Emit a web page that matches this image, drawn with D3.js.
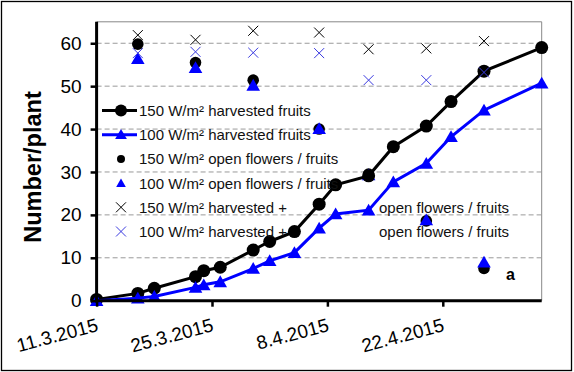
<!DOCTYPE html>
<html>
<head>
<meta charset="utf-8">
<script src="https://cdn.jsdelivr.net/npm/d3@7"></script>
<style>
  body { margin: 0; background: #fff; }
  svg { display: block; font-family: "Liberation Sans", Arial, sans-serif; }
</style>
</head>
<body>
<div id="chart-area"></div>
<script>
// harvested fruits (lines), measured dates
var lineDates = ["2015-03-11","2015-03-16","2015-03-18","2015-03-23","2015-03-24","2015-03-26",
  "2015-03-30","2015-04-01","2015-04-04","2015-04-07","2015-04-09","2015-04-13","2015-04-16",
  "2015-04-20","2015-04-23","2015-04-27","2015-05-04"];
var harvested150 = [0.3, 1.7, 2.9, 5.6, 7.0, 7.8, 11.8, 13.8, 16.1, 22.5, 27.0, 29.1, 35.9, 40.7, 46.4, 53.5, 59.0];
var harvested100 = [0.0, 0.6, 1.0, 3.1, 3.7, 4.4, 7.5, 9.3, 11.2, 16.9, 20.2, 21.1, 27.7, 32.0, 38.2, 44.4, 50.7];

// open flowers / fruits counts (weekly)
var openDates = ["2015-03-16","2015-03-23","2015-03-30","2015-04-07","2015-04-13","2015-04-20","2015-04-27"];
var open150 = [59.8, 55.5, 51.4, 40.0, 29.5, 18.6, 7.5];
var open100 = [56.4, 54.3, 50.2, 40.1, 29.3, 18.8, 9.0];
var total150 = [61.9, 60.8, 62.9, 62.5, 58.6, 58.8, 60.5];
var total100 = [57.7, 58.0, 57.8, 57.7, 51.4, 51.4, 53.2];

var yTicks = [0, 10, 20, 30, 40, 50, 60];
var xTickDates = ["2015-03-11","2015-03-25","2015-04-08","2015-04-22"];
var xDomain = ["2015-03-11","2015-05-04"];

var legendRows = [
  {label: "150 W/m² harvested fruits", type: "line", color: "#000", marker: "circle"},
  {label: "100 W/m² harvested fruits", type: "line", color: "#0000ff", marker: "triangle"},
  {label: "150 W/m² open flowers / fruits", type: "point", color: "#000", marker: "circle"},
  {label: "100 W/m² open flowers / fruits", type: "point", color: "#0000ff", marker: "triangle"},
  {label: "150 W/m² harvested +", extra: "open flowers / fruits", type: "point", color: "#000", marker: "x"},
  {label: "100 W/m² harvested +", extra: "open flowers / fruits", type: "point", color: "#3a3ae0", marker: "x"}
];

var W = 574, H = 372;
var blue = "#0000ff";
var parse = d3.timeParse("%Y-%m-%d");

var svg = d3.select("#chart-area").append("svg")
  .attr("width", W)
  .attr("height", H);

// outer frame
svg.append("rect")
  .attr("x", 1.5).attr("y", 1.5)
  .attr("width", 570).attr("height", 369)
  .attr("fill", "#fff").attr("stroke", "#000").attr("stroke-width", 1.3);

var x = d3.scaleTime().domain(xDomain.map(parse)).range([96.6, 541.7]);
var y = d3.scaleLinear().domain([0, 65]).range([300.7, 21.8]);

// plot area border (top, right)
svg.append("path")
  .attr("d", "M" + x.range()[0] + "," + y(65) + "H" + x.range()[1] + "V" + y(0))
  .attr("fill", "none").attr("stroke", "#888").attr("stroke-width", 1);

// gridlines
svg.selectAll(".grid").data(yTicks.filter(function(d){ return d > 0; }))
  .enter().append("line")
  .attr("class", "grid")
  .attr("x1", x.range()[0]).attr("x2", x.range()[1])
  .attr("y1", function(d){ return y(d); }).attr("y2", function(d){ return y(d); })
  .attr("stroke", "#9a9a9a").attr("stroke-width", 1).attr("stroke-dasharray", "5,3");

var triangle = d3.symbol().type(d3.symbolTriangle).size(80);
function triPath(cx, cy) {
  // centre triangle on its bounding box
  return "translate(" + cx + "," + (cy + 1.4) + ")";
}
function drawX(g, cx, cy, color) {
  var s = 5;
  g.append("path")
    .attr("d", "M" + (cx - s) + "," + (cy - s) + "L" + (cx + s) + "," + (cy + s) +
      "M" + (cx - s) + "," + (cy + s) + "L" + (cx + s) + "," + (cy - s))
    .attr("stroke", color).attr("stroke-width", 1).attr("fill", "none");
}

var marks = svg.append("g");

// open flowers / fruits points
openDates.forEach(function(d, i) {
  marks.append("circle")
    .attr("cx", x(parse(d))).attr("cy", y(open150[i])).attr("r", 5.8)
    .attr("fill", "#000");
});
openDates.forEach(function(d, i) {
  marks.append("path")
    .attr("d", triangle)
    .attr("transform", triPath(x(parse(d)), y(open100[i])))
    .attr("fill", blue);
});

// harvested lines
var line150 = d3.line()
  .x(function(d, i){ return x(parse(lineDates[i])); })
  .y(function(d){ return y(d); });

marks.append("path")
  .datum(harvested150)
  .attr("d", line150)
  .attr("fill", "none").attr("stroke", "#000").attr("stroke-width", 3);

marks.selectAll(".c150").data(harvested150).enter().append("circle")
  .attr("cx", function(d, i){ return x(parse(lineDates[i])); })
  .attr("cy", function(d){ return y(d); })
  .attr("r", 6.5).attr("fill", "#000");

marks.append("path")
  .datum(harvested100)
  .attr("d", line150)
  .attr("fill", "none").attr("stroke", blue).attr("stroke-width", 3);

marks.selectAll(".t100").data(harvested100).enter().append("path")
  .attr("d", triangle)
  .attr("transform", function(d, i){ return triPath(x(parse(lineDates[i])), y(d)); })
  .attr("fill", blue);

// harvested + open flowers
openDates.forEach(function(d, i) {
  drawX(marks, x(parse(d)), y(total150[i]), "#000");
});
openDates.forEach(function(d, i) {
  drawX(marks, x(parse(d)), y(total100[i]), "#3a3ae0");
});

// axes
var yAxis = d3.axisLeft(y).tickValues(yTicks).tickSize(6).tickSizeOuter(0).tickPadding(9);
var gy = svg.append("g")
  .attr("transform", "translate(" + x.range()[0] + ",0)")
  .call(yAxis);
gy.select(".domain").attr("stroke", "#000").attr("stroke-width", 3)
  .attr("d", "M0," + y(65) + "V" + (y(0) + 1.5));
gy.selectAll(".tick line").attr("stroke", "#000").attr("stroke-width", 2.5);
gy.selectAll(".tick text")
  .attr("font-size", 19).attr("fill", "#000")
  .attr("font-family", "'Liberation Sans', Arial, sans-serif");

var xAxis = d3.axisBottom(x).tickValues(xTickDates.map(parse)).tickSize(6).tickSizeOuter(0)
  .tickFormat(d3.timeFormat("%-d.%-m.%Y"));
var gx = svg.append("g")
  .attr("transform", "translate(0," + y(0) + ")")
  .call(xAxis);
gx.select(".domain").attr("stroke", "#000").attr("stroke-width", 3)
  .attr("d", "M" + (x.range()[0] - 1.5) + ",0H" + x.range()[1]);
gx.selectAll(".tick line").attr("stroke", "#000").attr("stroke-width", 2.5);
gx.selectAll(".tick text")
  .attr("font-size", 19).attr("fill", "#000")
  .attr("font-family", "'Liberation Sans', Arial, sans-serif")
  .attr("text-anchor", "end")
  .attr("y", 0).attr("dy", 0)
  .attr("transform", "translate(2,30) rotate(-15)");

// y title
svg.append("text")
  .attr("transform", "translate(41,167) rotate(-90)")
  .attr("text-anchor", "middle")
  .attr("font-size", 23.5)
  .attr("font-weight", "bold")
  .text("Number/plant");

// legend
var legend = svg.append("g");
legendRows.forEach(function(r, i) {
  var ly = 110.5 + i * 24.2;
  if (r.type === "line") {
    legend.append("line")
      .attr("x1", 102).attr("x2", 137).attr("y1", ly).attr("y2", ly)
      .attr("stroke", r.color).attr("stroke-width", 3);
  }
  if (r.marker === "circle") {
    legend.append("circle").attr("cx", 121).attr("cy", ly)
      .attr("r", r.type === "line" ? 6 : 4).attr("fill", r.color);
  } else if (r.marker === "triangle") {
    legend.append("path")
      .attr("d", d3.symbol().type(d3.symbolTriangle).size(r.type === "line" ? 60 : 40))
      .attr("transform", "translate(121," + (ly + 1) + ")")
      .attr("fill", r.color);
  } else {
    drawX(legend, 121, ly, r.color);
  }
  legend.append("text")
    .attr("x", 139).attr("y", ly + 5.5)
    .attr("font-size", 15).attr("fill", "#111")
    .text(r.label);
  if (r.extra) {
    legend.append("text")
      .attr("x", 379).attr("y", ly + 5.5)
      .attr("font-size", 15).attr("fill", "#111")
      .text(r.extra);
  }
});

// panel label
svg.append("text")
  .attr("x", 506).attr("y", 280)
  .attr("font-size", 16).attr("font-weight", "bold")
  .text("a");
</script>
</body>
</html>
